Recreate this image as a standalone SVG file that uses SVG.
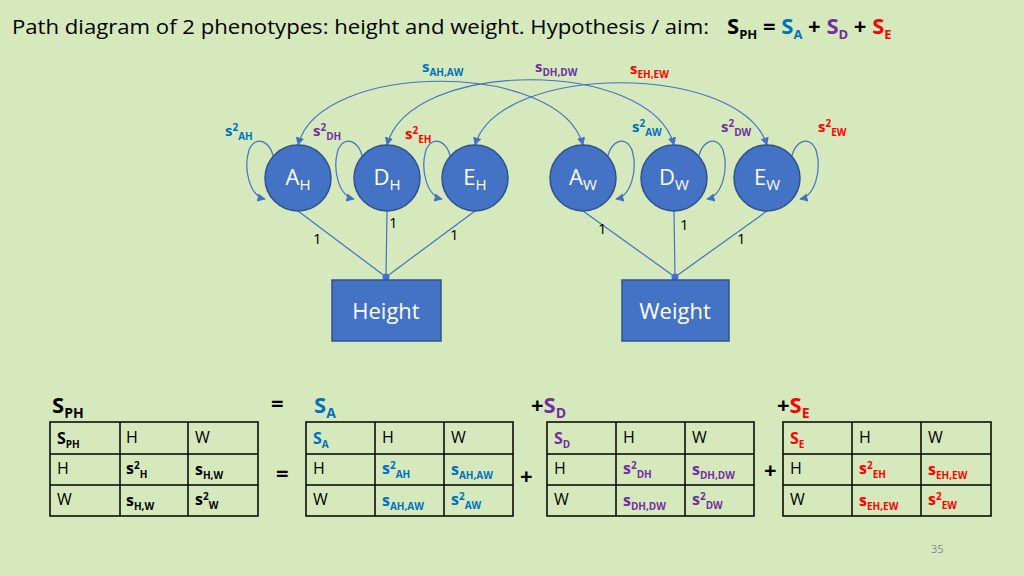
<svg xmlns="http://www.w3.org/2000/svg" width="1024" height="576" viewBox="0 0 1024 576">
<style>
text{font-family:"Open Sans","Liberation Sans",sans-serif;}
.b{fill:#0070c0}.p{fill:#7030a0}.r{fill:#ff0000}
.lab{font-size:15px;font-weight:bold}
.sub{font-size:10px}
.node circle{fill:#4472c4;stroke:#2f528f;stroke-width:1.5}
.node text{fill:#fff;font-size:22px;text-anchor:middle}
.box rect{fill:#4472c4;stroke:#2f528f;stroke-width:1.5}
.box text{fill:#fff;font-size:22px;text-anchor:middle}
.conn path{fill:none;stroke:#4472c4;stroke-width:1.2}
.tbl rect,.tbl line{fill:none;stroke:#000;stroke-width:1.5}
.tbl text{font-size:16px}
.one{font-size:15px}
</style>
<defs>
<marker id="ah" viewBox="0 0 10 10" refX="9" refY="5" markerWidth="7" markerHeight="7" orient="auto-start-reverse"><path d="M0,0 L10,5 L0,10 z" fill="#4472c4"/></marker>
</defs>
<rect width="1024" height="576" fill="#d6e9bd"/>
<text x="12" y="34" font-size="20" fill="#000" textLength="697" lengthAdjust="spacingAndGlyphs">Path diagram of 2 phenotypes: height and weight. Hypothesis / aim:</text>
<text x="727" y="34" font-weight="bold" font-size="22">S<tspan font-size="13" dy="5">PH</tspan><tspan dy="-5"> = </tspan><tspan class="b">S<tspan font-size="13" dy="5">A</tspan></tspan><tspan dy="-5"> + </tspan><tspan class="p">S<tspan font-size="13" dy="5">D</tspan></tspan><tspan dy="-5"> + </tspan><tspan class="r">S<tspan font-size="13" dy="5">E</tspan></tspan></text>

<g class="conn">
<path d="M298,145 C320,60 560,60 583,145" marker-start="url(#ah)" marker-end="url(#ah)"/>
<path d="M387,145 C410,58 650,58 674,145" marker-start="url(#ah)" marker-end="url(#ah)"/>
<path d="M475,145 C500,62 740,62 767,145" marker-start="url(#ah)" marker-end="url(#ah)"/>
<path d="M275,168 C273,138 255,135 249,150 C243,170 250,196 265,199" marker-start="url(#ah)" marker-end="url(#ah)"/>
<path d="M364,168 C362,138 344,135 338,150 C332,170 339,196 354,199" marker-start="url(#ah)" marker-end="url(#ah)"/>
<path d="M452,168 C450,138 432,135 426,150 C420,170 427,196 442,199" marker-start="url(#ah)" marker-end="url(#ah)"/>
<path d="M606,168 C608,138 626,135 632,150 C638,170 631,196 616,199" marker-start="url(#ah)" marker-end="url(#ah)"/>
<path d="M697,168 C699,138 717,135 723,150 C729,170 722,196 707,199" marker-start="url(#ah)" marker-end="url(#ah)"/>
<path d="M790,168 C792,138 810,135 816,150 C822,170 815,196 800,199" marker-start="url(#ah)" marker-end="url(#ah)"/>
<path d="M298,211 L386,277"/><path d="M387,211 L386,277"/><path d="M475,211 L386,277"/>
<path d="M583,211 L675,277"/><path d="M674,211 L675,277"/><path d="M767,211 L675,277"/>
<circle cx="386" cy="277" r="3.5" fill="#4472c4"/><circle cx="675" cy="277" r="3.5" fill="#4472c4"/>
</g>

<g class="node" id="AH"><circle cx="298" cy="178" r="33"/><text x="298" y="185">A<tspan font-size="15" dy="5">H</tspan></text></g>
<g class="node" id="DH"><circle cx="387" cy="178" r="33"/><text x="387" y="185">D<tspan font-size="15" dy="5">H</tspan></text></g>
<g class="node" id="EH"><circle cx="475" cy="178" r="33"/><text x="475" y="185">E<tspan font-size="15" dy="5">H</tspan></text></g>
<g class="node" id="AW"><circle cx="583" cy="178" r="33"/><text x="583" y="185">A<tspan font-size="15" dy="5">W</tspan></text></g>
<g class="node" id="DW"><circle cx="674" cy="178" r="33"/><text x="674" y="185">D<tspan font-size="15" dy="5">W</tspan></text></g>
<g class="node" id="EW"><circle cx="767" cy="178" r="33"/><text x="767" y="185">E<tspan font-size="15" dy="5">W</tspan></text></g>
<g class="box" id="Height"><rect x="332" y="280" width="109" height="61"/><text x="386" y="319">Height</text></g>
<g class="box" id="Weight"><rect x="622" y="280" width="107" height="61"/><text x="675" y="319">Weight</text></g>

<g class="one">
<text x="313" y="244">1</text><text x="389" y="228">1</text><text x="450" y="240">1</text>
<text x="598" y="234">1</text><text x="680" y="230">1</text><text x="737" y="244">1</text>
</g>

<g class="lab">
<text x="422" y="72" class="b">s<tspan class="sub" dy="4">AH,AW</tspan></text>
<text x="535" y="72" class="p">s<tspan class="sub" dy="4">DH,DW</tspan></text>
<text x="630" y="74" class="r">s<tspan class="sub" dy="4">EH,EW</tspan></text>
<text x="225" y="136" class="b">s<tspan class="sub" dy="-5">2</tspan><tspan class="sub" dy="9">AH</tspan></text>
<text x="313" y="136" class="p">s<tspan class="sub" dy="-5">2</tspan><tspan class="sub" dy="9">DH</tspan></text>
<text x="405" y="139" class="r">s<tspan class="sub" dy="-5">2</tspan><tspan class="sub" dy="9">EH</tspan></text>
<text x="632" y="132" class="b">s<tspan class="sub" dy="-5">2</tspan><tspan class="sub" dy="9">AW</tspan></text>
<text x="721" y="132" class="p">s<tspan class="sub" dy="-5">2</tspan><tspan class="sub" dy="9">DW</tspan></text>
<text x="818" y="132" class="r">s<tspan class="sub" dy="-5">2</tspan><tspan class="sub" dy="9">EW</tspan></text>
</g>

<g font-weight="bold" font-size="22">
<text x="52" y="413">S<tspan font-size="14" dy="5">PH</tspan></text>
<text x="271" y="411">=</text>
<text x="314" y="413" class="b">S<tspan font-size="14" dy="5">A</tspan></text>
<text x="531" y="413">+<tspan class="p">S<tspan font-size="14" dy="5">D</tspan></tspan></text>
<text x="777" y="413">+<tspan class="r">S<tspan font-size="14" dy="5">E</tspan></tspan></text>
<text x="276" y="481">=</text>
<text x="520" y="484">+</text>
<text x="764" y="478">+</text>
</g>

<g class="tbl" id="tPH">
<rect x="50" y="422" width="208" height="94"/>
<line x1="120" y1="422" x2="120" y2="516"/><line x1="188" y1="422" x2="188" y2="516"/>
<line x1="50" y1="454" x2="258" y2="454"/><line x1="50" y1="485" x2="258" y2="485"/>
<text x="57" y="444" font-weight="bold">S<tspan class="sub" dy="4">PH</tspan></text>
<text x="126" y="443">H</text><text x="195" y="443">W</text>
<text x="57" y="474">H</text><text x="57" y="505">W</text>
<text x="126" y="474" font-weight="bold">s<tspan class="sub" dy="-5">2</tspan><tspan class="sub" dy="9">H</tspan></text>
<text x="195" y="475" font-weight="bold">s<tspan class="sub" dy="4">H,W</tspan></text>
<text x="126" y="506" font-weight="bold">s<tspan class="sub" dy="4">H,W</tspan></text>
<text x="195" y="505" font-weight="bold">s<tspan class="sub" dy="-5">2</tspan><tspan class="sub" dy="9">W</tspan></text>
</g>
<g class="tbl" id="tA">
<rect x="306" y="422" width="207" height="94"/>
<line x1="375" y1="422" x2="375" y2="516"/><line x1="444" y1="422" x2="444" y2="516"/>
<line x1="306" y1="454" x2="513" y2="454"/><line x1="306" y1="485" x2="513" y2="485"/>
<g font-weight="bold" class="b"><text x="313" y="444">S<tspan class="sub" dy="4">A</tspan></text>
<text x="382" y="474">s<tspan class="sub" dy="-5">2</tspan><tspan class="sub" dy="9">AH</tspan></text>
<text x="451" y="475">s<tspan class="sub" dy="4">AH,AW</tspan></text>
<text x="382" y="506">s<tspan class="sub" dy="4">AH,AW</tspan></text>
<text x="451" y="505">s<tspan class="sub" dy="-5">2</tspan><tspan class="sub" dy="9">AW</tspan></text></g>
<text x="382" y="443">H</text><text x="451" y="443">W</text>
<text x="313" y="474">H</text><text x="313" y="505">W</text>
</g>
<g class="tbl" id="tD">
<rect x="547" y="422" width="207" height="94"/>
<line x1="616" y1="422" x2="616" y2="516"/><line x1="685" y1="422" x2="685" y2="516"/>
<line x1="547" y1="454" x2="754" y2="454"/><line x1="547" y1="485" x2="754" y2="485"/>
<g font-weight="bold" class="p"><text x="554" y="444">S<tspan class="sub" dy="4">D</tspan></text>
<text x="623" y="474">s<tspan class="sub" dy="-5">2</tspan><tspan class="sub" dy="9">DH</tspan></text>
<text x="692" y="475">s<tspan class="sub" dy="4">DH,DW</tspan></text>
<text x="623" y="506">s<tspan class="sub" dy="4">DH,DW</tspan></text>
<text x="692" y="505">s<tspan class="sub" dy="-5">2</tspan><tspan class="sub" dy="9">DW</tspan></text></g>
<text x="623" y="443">H</text><text x="692" y="443">W</text>
<text x="554" y="474">H</text><text x="554" y="505">W</text>
</g>
<g class="tbl" id="tE">
<rect x="783" y="422" width="208" height="94"/>
<line x1="852" y1="422" x2="852" y2="516"/><line x1="921" y1="422" x2="921" y2="516"/>
<line x1="783" y1="454" x2="991" y2="454"/><line x1="783" y1="485" x2="991" y2="485"/>
<g font-weight="bold" class="r"><text x="790" y="444">S<tspan class="sub" dy="4">E</tspan></text>
<text x="859" y="474">s<tspan class="sub" dy="-5">2</tspan><tspan class="sub" dy="9">EH</tspan></text>
<text x="928" y="475">s<tspan class="sub" dy="4">EH,EW</tspan></text>
<text x="859" y="506">s<tspan class="sub" dy="4">EH,EW</tspan></text>
<text x="928" y="505">s<tspan class="sub" dy="-5">2</tspan><tspan class="sub" dy="9">EW</tspan></text></g>
<text x="859" y="443">H</text><text x="928" y="443">W</text>
<text x="790" y="474">H</text><text x="790" y="505">W</text>
</g>
<text x="931" y="553" font-size="11" fill="#8a8a8a">35</text>
</svg>
